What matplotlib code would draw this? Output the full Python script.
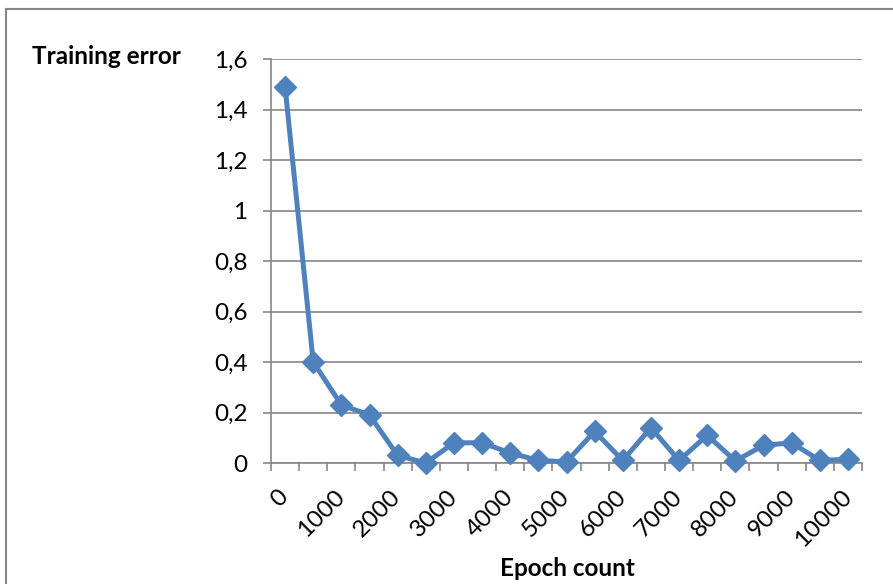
import numpy as np
import matplotlib
matplotlib.use("Agg")
import matplotlib.pyplot as plt
from matplotlib.patches import Rectangle
from matplotlib.ticker import FuncFormatter

epochs = [0, 500, 1000, 1500, 2000, 2500, 3000, 3500, 4000, 4500, 5000,
          5500, 6000, 6500, 7000, 7500, 8000, 8500, 9000, 9500, 10000]
error = [1.49, 0.40, 0.23, 0.19, 0.03, 0.0, 0.08, 0.08, 0.04, 0.01, 0.005,
         0.125, 0.01, 0.14, 0.01, 0.11, 0.008, 0.07, 0.08, 0.01, 0.015]
y_ticks = [0, 0.2, 0.4, 0.6, 0.8, 1.0, 1.2, 1.4, 1.6]

blue = "#4F81BD"
grey = "#868686"
plt.rcParams["font.family"] = ["Lato", "DejaVu Sans"]

fig = plt.figure(figsize=(8.93, 5.84), dpi=100)
ax = fig.add_axes([271 / 893, 1 - 463 / 584, 591 / 893, 404 / 584])

# outer chart border (runs off the right and bottom edges)
fig.add_artist(Rectangle((6 / 893, -0.1), 1.2, 1.1 - 9 / 584,
                         transform=fig.transFigure, fill=False,
                         edgecolor=grey, lw=1.5, clip_on=False))

x = np.arange(len(epochs))
ax.plot(x, error, color=blue, lw=3.6, marker="D", ms=11, zorder=3,
        clip_on=False)

ax.set_xlim(-0.5, len(epochs) - 0.5)
ax.set_ylim(0, 1.6)

ax.set_yticks(y_ticks)
ax.yaxis.set_major_formatter(FuncFormatter(
    lambda v, p: f"{v:g}".replace(".", ",")))
ax.tick_params(axis="y", direction="out", length=6, width=1.2, color=grey,
               labelsize=17.5, pad=11)
ax.grid(axis="y", color=grey, lw=1.2)
ax.set_axisbelow(True)

# category boundaries as ticks, labels every other category
ax.set_xticks(np.arange(-0.5, len(epochs)))
ax.set_xticklabels([])
ax.tick_params(axis="x", which="major", direction="out", length=6, width=1.2,
               color=grey)
ax.set_xticks(x[::2], minor=True)
ax.set_xticklabels([str(e) for e in epochs[::2]], minor=True, rotation=45,
                   ha="right", va="center", rotation_mode="anchor")
ax.tick_params(axis="x", which="minor", length=0, labelsize=17.5, pad=22)

for s in ["top", "right"]:
    ax.spines[s].set_visible(False)
for s in ["left", "bottom"]:
    ax.spines[s].set_color(grey)
    ax.spines[s].set_linewidth(1.2)

fig.text(32 / 893, 1 - 57 / 584, "Training error", fontsize=17.5,
         fontweight="bold", ha="left", va="center")
fig.text(567 / 893, 1 - 569 / 584, "Epoch count", fontsize=17.5,
         fontweight="bold", ha="center", va="center")

fig.savefig("out.png", dpi=100)
